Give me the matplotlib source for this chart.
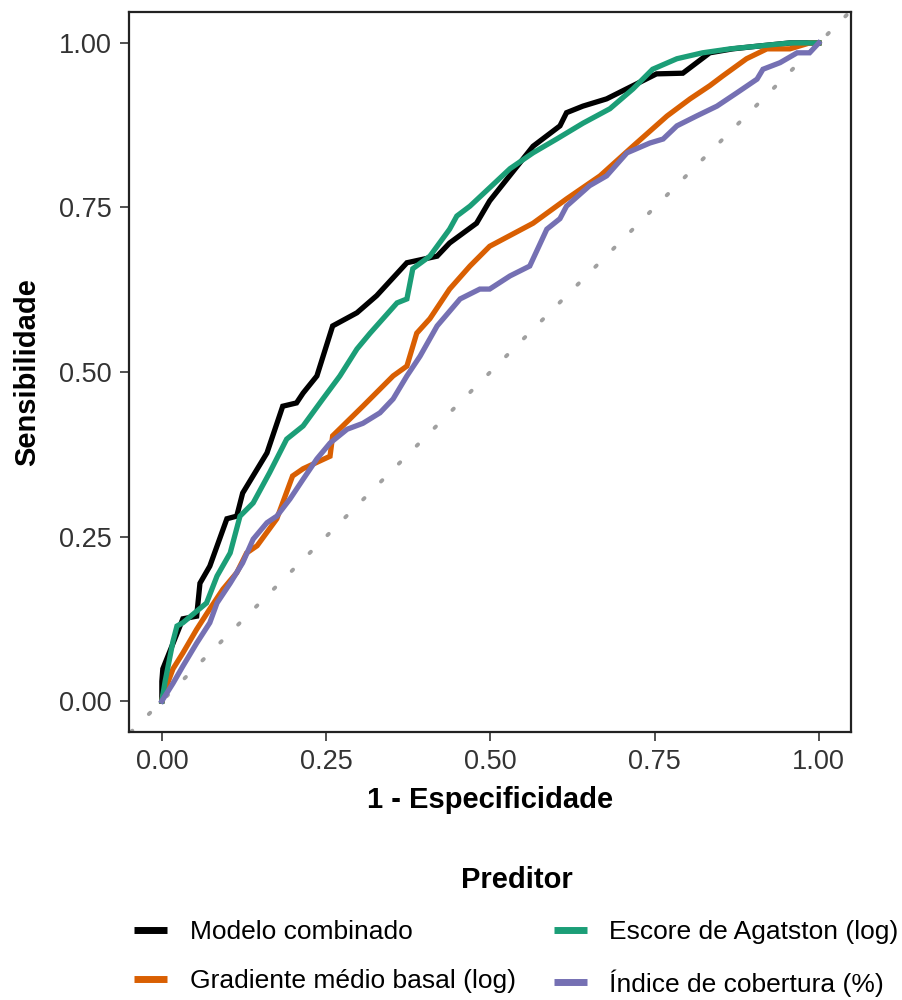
import matplotlib.pyplot as plt

plt.rcParams['font.family'] = ['Liberation Sans', 'DejaVu Sans']

# ROC curve points (1 - specificity, sensitivity)
modelo_x = [0, 0, 0.0015, 0.032, 0.053, 0.058, 0.073, 0.099, 0.114, 0.123, 0.160, 0.184, 0.205,
            0.215, 0.236, 0.260, 0.297, 0.327, 0.373, 0.419, 0.438, 0.479, 0.499, 0.565, 0.606,
            0.616, 0.641, 0.677, 0.717, 0.753, 0.793, 0.834, 0.869, 0.906, 0.956, 1]
modelo_y = [0, 0.03, 0.049, 0.125, 0.129, 0.179, 0.205, 0.277, 0.281, 0.316, 0.377, 0.448, 0.453,
            0.468, 0.494, 0.570, 0.590, 0.616, 0.666, 0.676, 0.696, 0.726, 0.760, 0.843, 0.874,
            0.894, 0.904, 0.915, 0.935, 0.953, 0.954, 0.985, 0.991, 0.995, 1.0, 1]

gradiente_x = [0, 0.0015, 0.017, 0.032, 0.053, 0.073, 0.093, 0.114, 0.129, 0.145, 0.175, 0.199,
               0.215, 0.256, 0.260, 0.306, 0.352, 0.373, 0.388, 0.408, 0.438, 0.469, 0.499,
               0.565, 0.616, 0.667, 0.717, 0.769, 0.804, 0.834, 0.854, 0.890, 0.921, 0.956,
               0.986, 1]
gradiente_y = [0, 0.008, 0.049, 0.073, 0.109, 0.140, 0.170, 0.195, 0.225, 0.236, 0.277, 0.342,
               0.353, 0.372, 0.403, 0.448, 0.494, 0.509, 0.559, 0.581, 0.626, 0.661, 0.691,
               0.726, 0.763, 0.798, 0.843, 0.889, 0.915, 0.935, 0.950, 0.976, 0.991, 0.991,
               1.0, 1]

agatston_x = [0, 0.005, 0.017, 0.023, 0.032, 0.068, 0.084, 0.104, 0.119, 0.139, 0.164, 0.190,
              0.215, 0.245, 0.271, 0.297, 0.317, 0.358, 0.373, 0.382, 0.408, 0.438, 0.449,
              0.469, 0.499, 0.530, 0.565, 0.601, 0.641, 0.682, 0.717, 0.747, 0.784, 0.823,
              0.865, 0.906, 0.956, 1]
agatston_y = [0, 0.03, 0.091, 0.114, 0.119, 0.149, 0.190, 0.225, 0.281, 0.301, 0.347, 0.398,
              0.418, 0.459, 0.494, 0.535, 0.559, 0.605, 0.611, 0.657, 0.676, 0.717, 0.737,
              0.752, 0.780, 0.809, 0.833, 0.854, 0.878, 0.900, 0.930, 0.960, 0.976, 0.985,
              0.991, 0.995, 1.0, 1]

indice_x = [0, 0.017, 0.032, 0.053, 0.073, 0.084, 0.104, 0.123, 0.139, 0.160, 0.175, 0.195,
            0.215, 0.236, 0.256, 0.282, 0.306, 0.332, 0.352, 0.373, 0.393, 0.419, 0.454, 0.484,
            0.499, 0.530, 0.560, 0.586, 0.606, 0.616, 0.651, 0.677, 0.708, 0.743, 0.763, 0.784,
            0.814, 0.845, 0.875, 0.906, 0.915, 0.941, 0.967, 0.986, 1]
indice_y = [0, 0.027, 0.053, 0.088, 0.119, 0.149, 0.179, 0.210, 0.246, 0.271, 0.281, 0.307,
            0.337, 0.368, 0.392, 0.413, 0.422, 0.438, 0.459, 0.494, 0.524, 0.570, 0.611, 0.626,
            0.626, 0.646, 0.661, 0.717, 0.733, 0.752, 0.783, 0.798, 0.833, 0.848, 0.854, 0.874,
            0.889, 0.904, 0.924, 0.945, 0.960, 0.970, 0.985, 0.985, 1]

labels = ['Modelo combinado', 'Gradiente médio basal (log)',
          'Escore de Agatston (log)', 'Índice de cobertura (%)']
colors = ['black', '#D95F02', '#1B9E77', '#7570B3']
curves = [(modelo_x, modelo_y), (gradiente_x, gradiente_y),
          (agatston_x, agatston_y), (indice_x, indice_y)]
ticks = [0, 0.25, 0.5, 0.75, 1]
tick_labels = ['0.00', '0.25', '0.50', '0.75', '1.00']

fig = plt.figure(figsize=(9.03, 10), dpi=100)
ax = fig.add_axes([129 / 903, 0.268, 722 / 903, 0.72])

# reference diagonal
ax.axline((0, 0), (1, 1), color='#a0a0a0', lw=2.8, linestyle=(0, (0.5, 6.0)),
          dash_capstyle='round', zorder=1)

for (x, y), c, lab in zip(curves, colors, labels):
    ax.plot(x, y, color=c, lw=3.8, label=lab, solid_joinstyle='miter', zorder=2)

ax.set_xlim(-0.05, 1.049)
ax.set_ylim(-0.047, 1.047)
ax.set_xticks(ticks)
ax.set_xticklabels(tick_labels)
ax.set_yticks(ticks)
ax.set_yticklabels(tick_labels)
ax.tick_params(labelsize=19.5, length=6.5, width=1.2, color='#333333', labelcolor='#333333', pad=6)
for s in ax.spines.values():
    s.set_linewidth(1.6)
    s.set_color('#222222')

ax.set_xlabel('1 - Especificidade', fontsize=21, fontweight='bold', labelpad=8)
ax.set_ylabel('Sensibilidade', fontsize=21, fontweight='bold', labelpad=13)

leg = fig.legend(loc='upper center', bbox_to_anchor=(0.572, 0.158), ncol=2, frameon=False,
                 title='Preditor', fontsize=19, handlelength=1.25, handletextpad=0.85,
                 columnspacing=1.45, labelspacing=0.95)
leg.get_title().set_fontsize(21)
leg.get_title().set_fontweight('bold')
leg._legend_box.sep = 19
for line in leg.get_lines():
    line.set_linewidth(5)
    line.set_solid_capstyle('butt')

fig.savefig('out.png', dpi=100)
